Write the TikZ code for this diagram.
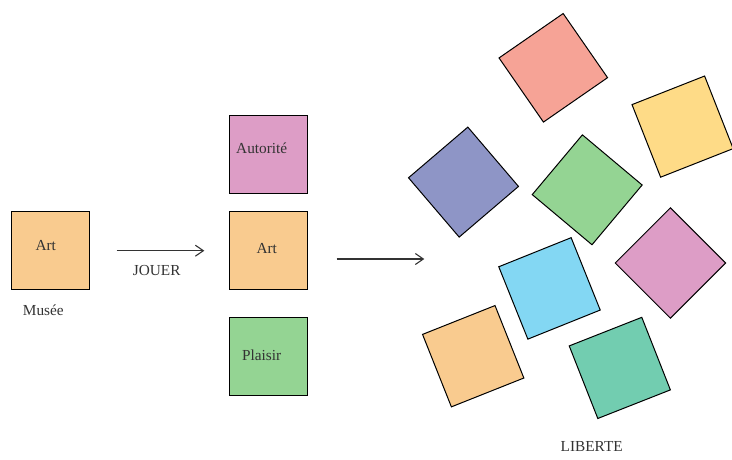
\documentclass[tikz,border=0pt]{standalone}
\usepackage{fontspec}
\setmainfont{Liberation Serif}
\usetikzlibrary{arrows.meta}
\definecolor{corange}{HTML}{F9CB8F}
\definecolor{cpink}{HTML}{DD9DC6}
\definecolor{cgreen}{HTML}{94D493}
\definecolor{cred}{HTML}{F6A396}
\definecolor{cyellow}{HTML}{FEDB87}
\definecolor{cpurple}{HTML}{8E95C6}
\definecolor{cblue}{HTML}{83D7F3}
\definecolor{cteal}{HTML}{72CDB0}
\definecolor{ctext}{HTML}{333333}
\tikzset{
  sq/.style={draw=black, line width=1pt, minimum size=78pt, inner sep=0pt, outer sep=0pt},
  lbl/.style={text=ctext, font=\fontsize{15.3}{17}\selectfont, inner sep=0pt},
  conn/.style={draw=ctext, line width=1.1pt, -{Straight Barb[length=8pt,width=11pt]}}
}
\begin{document}
\begin{tikzpicture}[x=1pt,y=-1pt]
\useasboundingbox (0,0) rectangle (732,459);
% left
\node[sq, fill=corange] (museeart) at (50.2,250.9) {};
\node[lbl] (museearttxt) at (45.7,246) {Art};
\node[lbl] (musee) at (43.3,310) {Musée};
\coordinate (a1s) at (116.7,250.7);
\coordinate (a1e) at (204.3,250.7);
\draw[conn] (a1s) -- (a1e);
\node[lbl] (jouer) at (156.7,270.7) {JOUER};
% middle
\node[sq, fill=cpink] (aut) at (268.8,154.5) {};
\node[lbl] (auttxt) at (261.7,148.3) {Autorité};
\node[sq, fill=corange] (art) at (268.8,250.5) {};
\node[lbl] (arttxt) at (266.7,249) {Art};
\node[sq, fill=cgreen] (pla) at (268.8,356.2) {};
\node[lbl] (platxt) at (261.7,355) {Plaisir};
\coordinate (a2s) at (336.7,259);
\coordinate (a2e) at (424.3,259);
\draw[conn] (a2s) -- (a2e);
% right scattered squares
\node[sq, fill=cred, rotate=34.7] (r1) at (553.3,67.8) {};
\node[sq, fill=cyellow, rotate=21.5] (r2) at (682.6,126.6) {};
\node[sq, fill=cpurple, rotate=40.5] (r3) at (463.5,182.1) {};
\node[sq, fill=cgreen, rotate=50] (r4) at (587.2,189.8) {};
\node[sq, fill=cblue, rotate=21.9] (r5) at (549.5,288.4) {};
\node[sq, fill=cpink, rotate=45] (r6) at (670.4,263) {};
\node[sq, fill=corange, rotate=21.7] (r7) at (473.2,356.2) {};
\node[sq, fill=cteal, rotate=21.5] (r8) at (619.8,367.9) {};
\node[lbl] (liberte) at (591.7,446.7) {LIBERTE};
\end{tikzpicture}
\end{document}
